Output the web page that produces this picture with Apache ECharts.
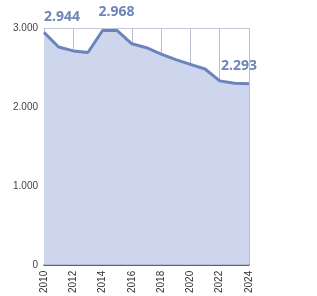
<!DOCTYPE html>
<html>
<head>
<meta charset="utf-8">
<script src="https://cdn.jsdelivr.net/npm/echarts@6/dist/echarts.min.js"></script>
<style>
  html, body { margin: 0; padding: 0; background: #fff; }
  #chart { width: 317px; height: 296px; }
</style>
</head>
<body>
<div id="chart"></div>
<script>
  // jaren en waarden
  var years = ['2010', '2011', '2012', '2013', '2014', '2015', '2016', '2017',
               '2018', '2019', '2020', '2021', '2022', '2023', '2024'];
  var values = [2944, 2760, 2710, 2690, 2968, 2968, 2800, 2750,
                2670, 2600, 2540, 2480, 2330, 2300, 2293];
  var labelled = [0, 4, 14]; // punten met een waardelabel

  function fmt(v) {
    return String(v).replace(/\B(?=(\d{3})+(?!\d))/g, '.');
  }

  // label offsets per punt
  var offsets = { 0: [18, -3], 4: [14, -7], 14: [-10, -6] };

  var seriesData = values.map(function (v, i) {
    if (labelled.indexOf(i) < 0) return v;
    return {
      value: v,
      label: {
        show: true,
        position: 'top',
        offset: offsets[i],
        fontSize: 14,
        fontFamily: 'Open Sans',
        fontWeight: 'bold',
        color: '#6d85b8',
        formatter: function (p) { return fmt(p.value); }
      }
    };
  });

  var chart = echarts.init(document.getElementById('chart'));
  chart.setOption({
    animation: false,
    grid: { left: 44, right: 68, top: 28, bottom: 28 },
    xAxis: {
      type: 'category',
      boundaryGap: false,
      data: years,
      axisLine: { show: true, lineStyle: { color: '#3d4250', width: 1.5 } },
      axisTick: { show: false },
      axisLabel: {
        interval: 1,
        rotate: 90,
        fontSize: 10,
        color: '#333',
        fontFamily: 'Liberation Sans',
        margin: 6
      },
      splitLine: { show: true, interval: 1, lineStyle: { color: '#b9bfd0', width: 1 } }
    },
    yAxis: {
      type: 'value',
      min: 0,
      max: 3000,
      interval: 1000,
      axisLine: { show: false },
      axisTick: { show: false },
      axisLabel: {
        fontSize: 10,
        color: '#444',
        fontFamily: 'Liberation Sans',
        margin: 6,
        formatter: function (v) { return fmt(v); }
      },
      splitLine: { lineStyle: { color: '#c3c8d4', width: 1 } }
    },
    series: [{
      type: 'line',
      data: seriesData,
      symbol: 'circle',
      symbolSize: 0,
      showSymbol: true,
      lineStyle: { color: '#6c84bd', width: 3 },
      itemStyle: { color: '#6c84bd' },
      areaStyle: { color: '#cdd6ec', opacity: 1 }
    }]
  });
</script>
</body>
</html>
